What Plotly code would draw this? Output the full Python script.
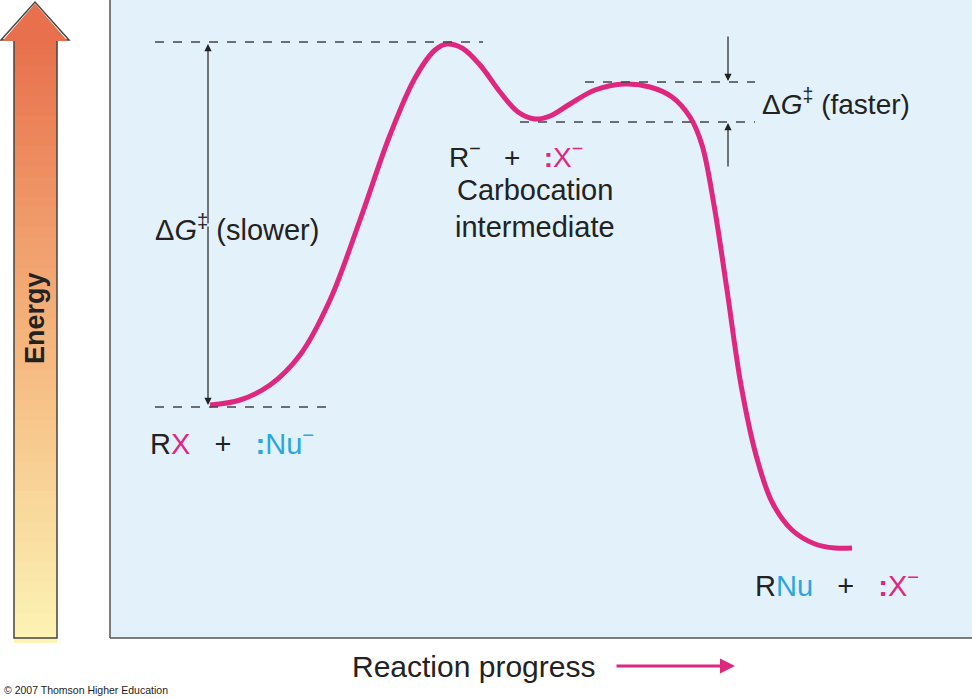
import numpy as np
import plotly.graph_objects as go

# energy profile (x = progress, y = page pixel, top = high energy)
curve_x = [210, 240, 270, 300, 330, 360, 390, 415, 435, 447, 462, 480, 500, 518, 535, 550, 570, 595, 625, 650, 672, 690, 702, 714, 727, 741, 756, 772, 792, 815, 835, 852]
curve_y = [405, 400, 385, 355, 300, 220, 135, 78, 50, 44, 48, 65, 92, 112, 119, 116, 104, 90, 84, 87, 97, 117, 145, 205, 290, 385, 455, 502, 530, 544, 548, 548]

MAG = "#e0277f"
BLUE = "#2aa7df"
INK = "#222222"
FONT = "Liberation Sans"

fig = go.Figure()

# gradient energy arrow shaft
grad = np.linspace(1, 0, 60).reshape(-1, 1)
fig.add_trace(go.Heatmap(
    z=grad, x=[14, 57], y=np.linspace(40, 638, 60),
    colorscale=[[0, "#fcf3b4"], [0.5, "#f5b57c"], [1, "#e8704c"]],
    showscale=False, hoverinfo="skip"))

fig.add_trace(go.Scatter(x=curve_x, y=curve_y, mode="lines",
                         line=dict(color=MAG, width=5, shape="spline", smoothing=1.0),
                         hoverinfo="skip"))

shapes = [
    dict(type="rect", x0=110, x1=972, y0=0, y1=638, fillcolor="#e3f1fb",
         line=dict(width=0), layer="below"),
    dict(type="line", x0=110, x1=110, y0=0, y1=638, line=dict(color="#555", width=1.5)),
    dict(type="line", x0=110, x1=972, y0=638, y1=638, line=dict(color="#555", width=1.5)),
    dict(type="path", path="M14,638 L14,40 L1,40 L35,2 L69,40 L57,40 L57,638 Z",
         line=dict(color="#444", width=1.5), fillcolor="rgba(0,0,0,0)"),
    dict(type="path", path="M15,41 L2.5,41 L35,3.5 L67.5,41 L56,41 Z",
         line=dict(width=0), fillcolor="#e8704c"),
]
for x0, x1, y in [(155, 483, 42), (155, 328, 407), (585, 755, 82), (520, 755, 122)]:
    shapes.append(dict(type="line", x0=x0, x1=x1, y0=y, y1=y,
                       line=dict(color="#444", width=1.3, dash="dash")))

ann = []
def arrow(x, y0, y1):
    ann.append(dict(x=x, y=y1, ax=x, ay=y0, xref="x", yref="y", axref="x", ayref="y",
                    text="", showarrow=True, arrowhead=2, arrowsize=1.2,
                    arrowwidth=1.2, arrowcolor=INK))
arrow(208, 225, 44)
arrow(208, 225, 405)
arrow(728, 35, 81)
arrow(728, 168, 123)

def txt(x, y, s, size=29, xanchor="left", color=INK, **kw):
    ann.append(dict(x=x, y=y, xref="x", yref="y", text=s, showarrow=False,
                    xanchor=xanchor, yanchor="middle",
                    font=dict(family=FONT, size=size, color=color), **kw))

dg = "Δ<i>G</i><sup>‡</sup>"
txt(153, 228, dg + " (slower)")
txt(760, 102, dg + " (faster)", size=28)
txt(447, 155, f"R<sup>−</sup>   +   <span style='color:{MAG}'><b>:</b>X<sup>−</sup></span>", size=28)
txt(535, 190, "Carbocation", xanchor="center", size=29)
txt(535, 227, "intermediate", xanchor="center", size=29)
txt(148, 442, f"R<span style='color:{MAG}'>X</span>   +   <span style='color:{BLUE}'><b>:</b>Nu<sup>−</sup></span>")
txt(753, 584, f"R<span style='color:{BLUE}'>Nu</span>   +   <span style='color:{MAG}'><b>:</b>X<sup>−</sup></span>")
txt(350, 666, "Reaction progress", size=30)
txt(35, 318, "<b>Energy</b>", xanchor="center", size=27, textangle=-90)
txt(2, 690, "© 2007 Thomson Higher Education", size=10.5)
ann.append(dict(x=735, y=666, ax=615, ay=666, xref="x", yref="y", axref="x", ayref="y",
                text="", showarrow=True, arrowhead=2, arrowsize=1, arrowwidth=3,
                arrowcolor=MAG))

fig.update_layout(
    width=972, height=699, margin=dict(l=0, r=0, t=0, b=0),
    paper_bgcolor="white", plot_bgcolor="white", showlegend=False,
    xaxis=dict(range=[0, 972], visible=False, fixedrange=True),
    yaxis=dict(range=[699, 0], visible=False, fixedrange=True),
    shapes=shapes, annotations=ann)

# drop the default page margin so the figure sits at the window corner
fig.write_html("out.html", config={"displayModeBar": False},
               post_script="document.body.style.margin='0';document.body.style.overflow='hidden';")
